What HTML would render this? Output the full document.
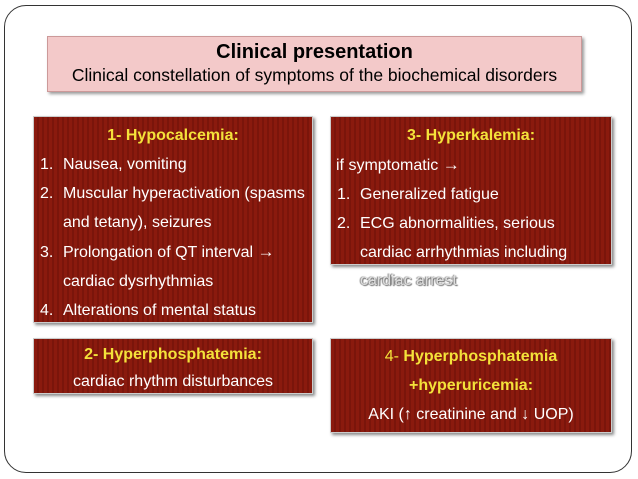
<!DOCTYPE html>
<html><head><style>
body{margin:0;width:638px;height:479px;background:#fff;position:relative;overflow:hidden;font-family:"Liberation Sans",sans-serif}
.frame{position:absolute;left:4px;top:5px;width:626px;height:466px;border:1.5px solid #333;border-radius:22px}
.hdr{position:absolute;left:47px;top:36px;width:533px;height:54px;background:#f3c9c9;border:1px solid #c99;box-shadow:2px 2px 3px #999;text-align:center}
.hdr .t{font-weight:bold;font-size:20px;margin-top:3px;line-height:24px}
.hdr .s{font-size:17.5px;line-height:22px}
.b{position:absolute;background:repeating-linear-gradient(90deg,#8a1a0e 0,#8a1a0e 3px,#7a150b 3px,#7a150b 5px);box-shadow:2px 2px 3px #888;border:1px solid #ccc;color:#fff;font-size:16px;line-height:29px}
.y{color:#f4e23a;font-weight:bold}
.c{text-align:center}
.l{padding-left:6px;white-space:nowrap}
.n{display:inline-block;width:23px}
.in{padding-left:29px}
.ar{font-weight:bold;font-size:17px}
</style></head><body>
<div class="frame"></div>
<div class="hdr"><div class="t">Clinical presentation</div><div class="s">Clinical constellation of symptoms of the biochemical disorders</div></div>
<div class="b" style="left:33px;top:116px;width:280px;height:207px;padding-top:4px;box-sizing:border-box">
<div class="c y">1- Hypocalcemia:</div>
<div class="l"><span class="n">1.</span>Nausea, vomiting</div>
<div class="l"><span class="n">2.</span>Muscular hyperactivation (spasms</div>
<div class="l in">and tetany), seizures</div>
<div class="l"><span class="n">3.</span>Prolongation of QT interval <span class="ar">→</span></div>
<div class="l in">cardiac dysrhythmias</div>
<div class="l"><span class="n">4.</span>Alterations of mental status</div>
</div>
<div class="b" style="left:330px;top:116px;width:282px;height:149px;padding-top:4px;box-sizing:border-box">
<div class="c y">3- Hyperkalemia:</div>
<div class="l" style="padding-left:5px">if symptomatic <span class="ar">→</span></div>
<div class="l"><span class="n">1.</span>Generalized fatigue</div>
<div class="l"><span class="n">2.</span>ECG abnormalities, serious</div>
<div class="l in">cardiac arrhythmias including</div>
</div>
<div style="position:absolute;left:360px;top:272px;font-size:16px;color:#ddd;text-shadow:1px 1px 1px #666,-1px 0 1px #888">cardiac arrest</div>
<div class="b" style="left:33px;top:338px;width:280px;height:56px;padding-top:2px;box-sizing:border-box;line-height:27px">
<div class="c y">2- Hyperphosphatemia:</div>
<div class="c">cardiac rhythm disturbances</div>
</div>
<div class="b" style="left:330px;top:338px;width:282px;height:95px;padding-top:3px;box-sizing:border-box">
<div class="c y"><span style="font-weight:normal">4- </span>Hyperphosphatemia</div>
<div class="c y">+hyperuricemia:</div>
<div class="c">AKI (↑ creatinine and ↓ UOP)</div>
</div>
</body></html>
